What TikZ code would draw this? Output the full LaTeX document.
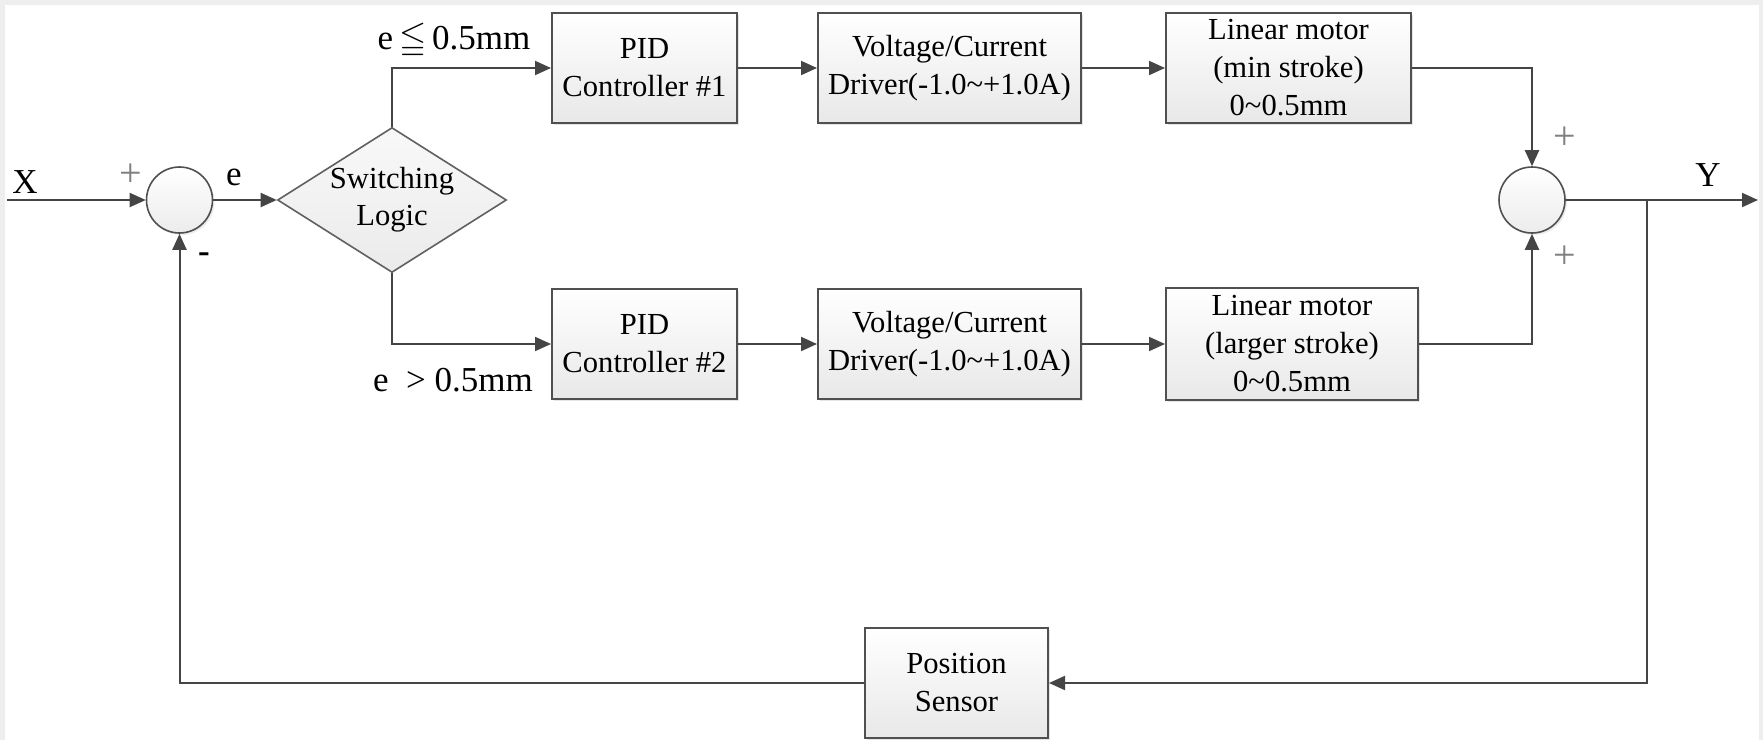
\documentclass[tikz,border=0pt]{standalone}
\usepackage{fontspec}
\setmainfont{Liberation Serif}
\usepackage{amssymb}
\usetikzlibrary{arrows.meta,shapes.geometric,shadows}
\definecolor{ln}{HTML}{454545}
\definecolor{bd}{HTML}{505050}
\definecolor{bg}{HTML}{EEEEEE}
\begin{document}
\begin{tikzpicture}[x=0.5pt,y=-0.5pt,
  line/.style={draw=ln, line width=1pt},
  arr/.style={line, -{Triangle[length=8pt,width=7pt]}},
  box/.style={draw=bd, line width=1pt, top color=white, bottom color=gray!18,
    align=center, inner sep=0pt, font=\fontsize{15.3}{19}\selectfont,
    drop shadow={opacity=0.2,shadow xshift=1pt,shadow yshift=-1pt}},
  sumnode/.style={circle, draw=bd, line width=0.8pt, top color=white,
    bottom color=gray!15, minimum size=33pt, inner sep=0pt,
    drop shadow={opacity=0.15,shadow xshift=1pt,shadow yshift=-1pt}},
  lbl/.style={font=\fontsize{17.5}{20}\selectfont, inner sep=0pt},
  cond/.style={font=\fontsize{17.5}{20}\selectfont, inner sep=0pt},
  pm/.style={font=\fontsize{20}{22}\selectfont, text=gray, inner sep=0pt}
]
\useasboundingbox (0,0) rectangle (1763,740);
\fill[bg] (0,0) rectangle (1763,740);
\fill[white] (5,5) rectangle (1759,740);

% blocks
\node[box, minimum width=92.5pt, minimum height=55pt] (pid1) at (644.5,68) {PID\\Controller \#1};
\node[box, minimum width=92.5pt, minimum height=55pt] (pid2) at (644.5,344) {PID\\Controller \#2};
\node[box, minimum width=131.5pt, minimum height=55pt] (vc1) at (949.5,68) {Voltage/Current\\Driver(-1.0\textasciitilde+1.0A)};
\node[box, minimum width=131.5pt, minimum height=55pt] (vc2) at (949.5,344) {Voltage/Current\\Driver(-1.0\textasciitilde+1.0A)};
\node[box, minimum width=122.5pt, minimum height=55pt] (lm1) at (1288.5,68) {Linear motor\\(min stroke)\\0\textasciitilde0.5mm};
\node[box, minimum width=126pt, minimum height=56pt] (lm2) at (1292,344) {Linear motor\\(larger stroke)\\0\textasciitilde0.5mm};
\node[box, minimum width=91.5pt, minimum height=55pt] (ps) at (956.5,683) {Position\\Sensor};

% switching logic
\node[diamond, draw=gray!75!black, line width=0.8pt, top color=gray!5, bottom color=gray!16,
  minimum width=114.5pt, minimum height=72.5pt, inner sep=0pt] (sw) at (392,200) {};
\node[font=\fontsize{15.3}{18.5}\selectfont, align=center, inner sep=0pt] (swt) at (392,200) {Switching\\Logic};

% summing junctions
\node[sumnode] (s1) at (179.5,200) {};
\node[sumnode] (s2) at (1532,200) {};

% free ends
\coordinate (xin) at (7,200);
\coordinate (yout) at (1758,200);
\coordinate (br) at (1647,200);

% connectors
\draw[arr] (xin) -- (s1.west);
\draw[arr] (s1.east) -- (sw.west);
\draw[arr] (sw.north) |- (pid1.west);
\draw[arr] (sw.south) |- (pid2.west);
\draw[arr] (pid1.east) -- (vc1.west);
\draw[arr] (vc1.east) -- (lm1.west);
\draw[arr] (pid2.east) -- (vc2.west);
\draw[arr] (vc2.east) -- (lm2.west);
\draw[arr] (lm1.east) -| (s2.north);
\draw[arr] (lm2.east) -| (s2.south);
\draw[arr] (s2.east) -- (yout);
\draw[arr] (br) |- (ps.east);
\draw[arr] (ps.west) -| (s1.south);

% labels
\node[lbl] (xl) at (25,182) {X};
\node[lbl] (el) at (234,177) {e};
\node[lbl] (yl) at (1708,175) {Y};
\node[pm] (p1) at (131,175) {+};
\node[lbl] (m1) at (204,258) {\textbf{-}};
\node[pm] (p2) at (1565,138) {+};
\node[pm] (p3) at (1565,257) {+};
\node[cond] (c1) at (454,41) {e\,$\leqq$\,0.5mm};
\node[cond] (c2) at (453,380) {e\ \ >\ 0.5mm};
\end{tikzpicture}
\end{document}
